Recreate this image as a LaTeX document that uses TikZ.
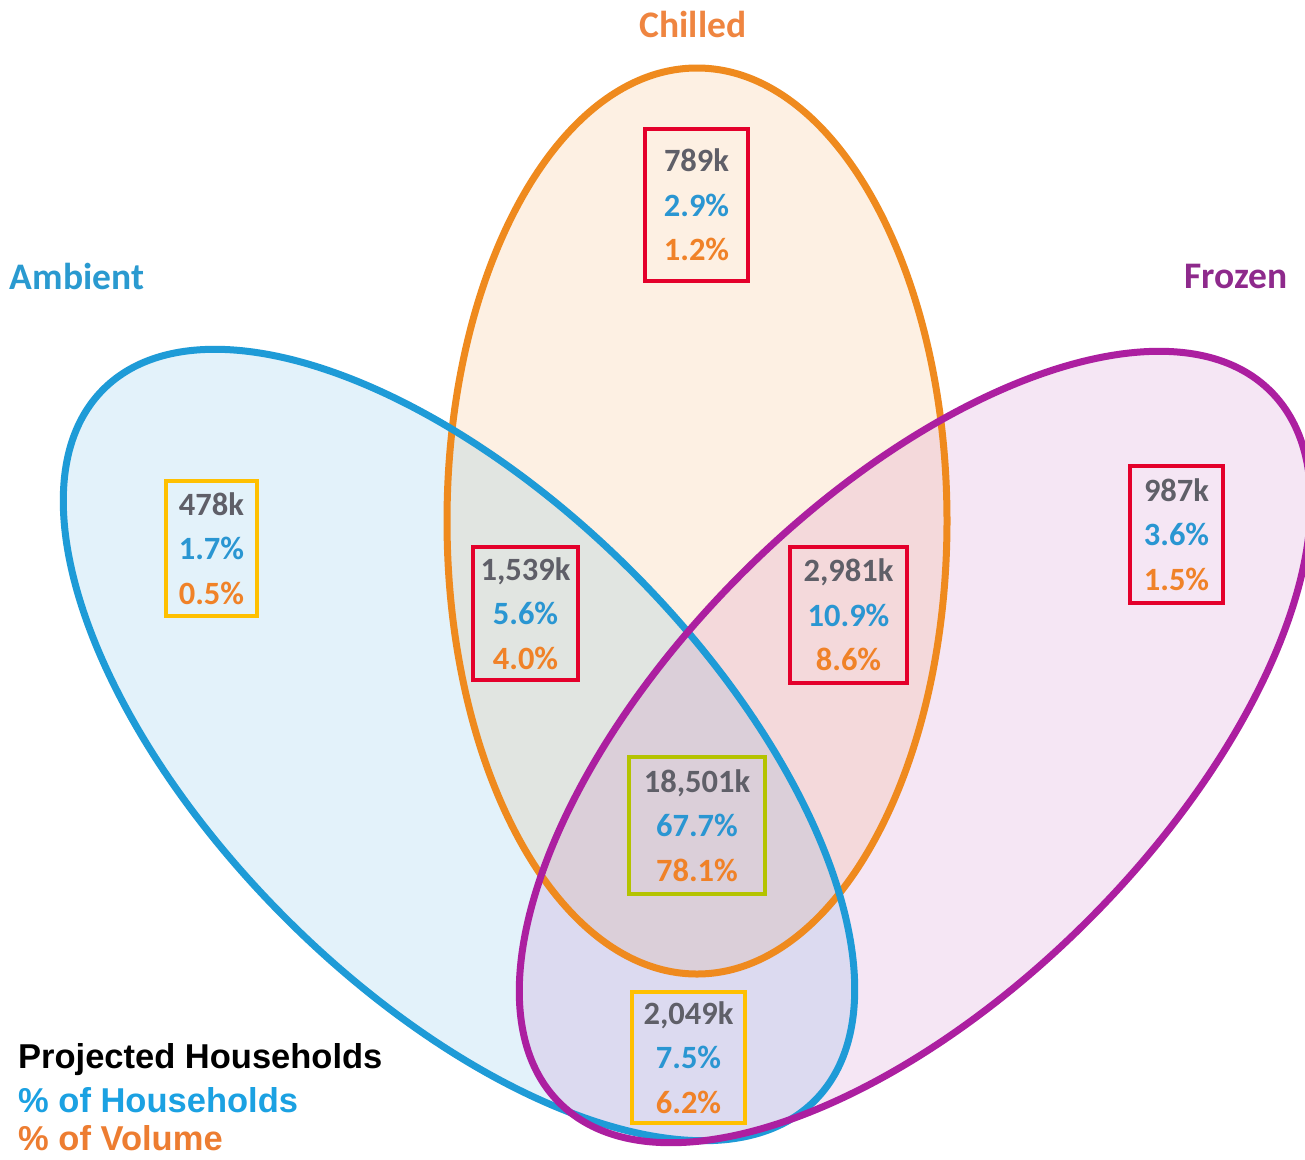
\documentclass[tikz,border=0pt]{standalone}
\usepackage{fontspec}
\setmainfont{Carlito}
\newfontfamily\legendfont{Liberation Sans}
\definecolor{cOr}{HTML}{EF8A1E}
\definecolor{cBl}{HTML}{1E9BD7}
\definecolor{cPu}{HTML}{AC1FA0}
\definecolor{numGray}{HTML}{5F5F68}
\definecolor{pBl}{HTML}{2A96D2}
\definecolor{pOr}{HTML}{F08228}
\definecolor{bRed}{HTML}{E4002B}
\definecolor{bYel}{HTML}{FFC000}
\definecolor{bOli}{HTML}{B4C300}
\definecolor{lOr}{HTML}{EF8540}
\definecolor{lBl}{HTML}{2A9AD0}
\definecolor{lPu}{HTML}{8E2A8C}
\definecolor{gBl}{HTML}{1BA1E2}
\definecolor{gOr}{HTML}{ED7D31}
\tikzset{
  setline/.style={line width=7pt},
  databox/.style={draw=#1, line width=4pt, align=center, inner sep=0pt,
    font=\bfseries\fontsize{32.5}{44.5}\selectfont},
  setlabel/.style={font=\bfseries\fontsize{37.5}{40}\selectfont, text=#1, inner sep=0pt},
  legendtxt/.style={font=\legendfont\bfseries\fontsize{34.5}{38}\selectfont, text=#1, inner sep=0pt, anchor=west}
}
\newcommand{\tri}[3]{\textcolor{numGray}{#1}\\\textcolor{pBl}{#2}\\\textcolor{pOr}{#3}}
\begin{document}
\begin{tikzpicture}[x=1pt,y=-1pt]
\useasboundingbox (0,0) rectangle (1305,1159);
\fill[white] (0,0) rectangle (1305,1159);
% fills
\fill[cOr, fill opacity=0.12] (697,521) ellipse [x radius=250, y radius=453];
\fill[cBl, fill opacity=0.12, rotate around={-45:(459,745)}] (459,745) ellipse [x radius=503, y radius=245];
\fill[cPu, fill opacity=0.11, rotate around={45:(915,747)}] (915,747) ellipse [x radius=503, y radius=245];
% outlines
\draw[cOr, setline] (697,521) ellipse [x radius=250, y radius=453];
\draw[cBl, setline, rotate around={-45:(459,745)}] (459,745) ellipse [x radius=503, y radius=245];
\draw[cPu, setline, rotate around={45:(915,747)}] (915,747) ellipse [x radius=503, y radius=245];
% set labels
\node[setlabel=lOr] (chilled) at (693,24) {Chilled};
\node[setlabel=lBl] (ambient) at (77,276) {Ambient};
\node[setlabel=lPu] (frozen) at (1236,276) {Frozen};
% data boxes
\node[databox=bRed, minimum width=103pt, minimum height=152pt] (c) at (696.5,205) {\tri{789k}{2.9\%}{1.2\%}};
\node[databox=bYel, minimum width=91pt, minimum height=135pt] (a) at (211.5,548.5) {\tri{478k}{1.7\%}{0.5\%}};
\node[databox=bRed, minimum width=105pt, minimum height=133pt] (ac) at (525.5,613.5) {\tri{1,539k}{5.6\%}{4.0\%}};
\node[databox=bRed, minimum width=117pt, minimum height=136pt] (cf) at (848.5,615) {\tri{2,981k}{10.9\%}{8.6\%}};
\node[databox=bRed, minimum width=93pt, minimum height=137pt] (f) at (1176.5,534.5) {\tri{987k}{3.6\%}{1.5\%}};
\node[databox=bOli, minimum width=136pt, minimum height=137pt] (acf) at (697,825.5) {\tri{18,501k}{67.7\%}{78.1\%}};
\node[databox=bYel, minimum width=113pt, minimum height=131pt] (af) at (688.5,1057.5) {\tri{2,049k}{7.5\%}{6.2\%}};
% legend
\node[legendtxt=black] (lg1) at (18,1060) {Projected Households};
\node[legendtxt=gBl] (lg2) at (18,1100) {\% of Households};
\node[legendtxt=gOr] (lg3) at (18,1138) {\% of Volume};
\end{tikzpicture}
\end{document}
